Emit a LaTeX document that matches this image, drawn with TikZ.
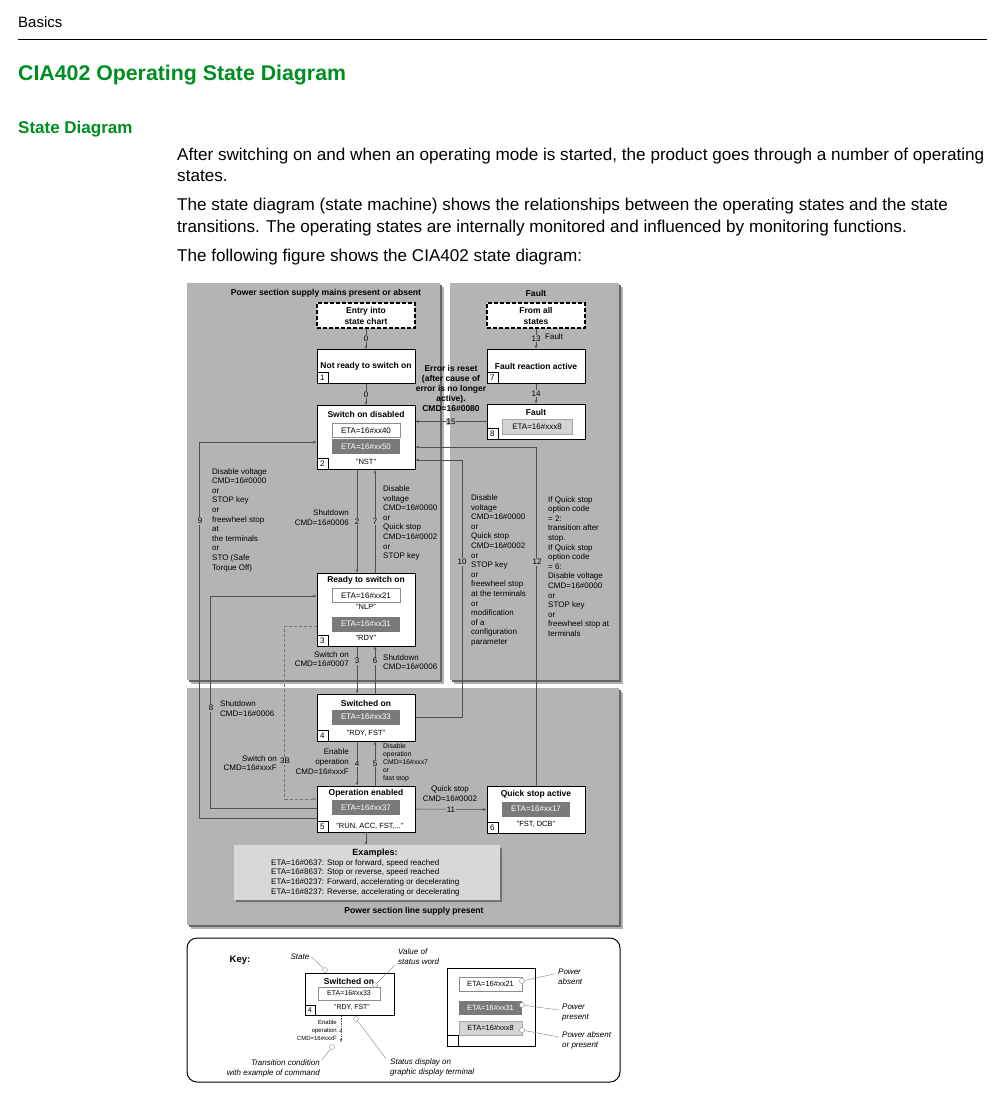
\documentclass[tikz,border=0pt]{standalone}
\usepackage{fontspec}
\setmainfont{Liberation Sans}
\usetikzlibrary{arrows.meta}

\definecolor{sgreen}{RGB}{0,142,32}
\definecolor{panelgray}{RGB}{180,180,180}
\definecolor{etadark}{RGB}{122,122,122}
\definecolor{etalight}{RGB}{212,212,212}
\definecolor{exgray}{RGB}{216,216,216}
\definecolor{linegray}{RGB}{80,80,80}

\begin{document}
\begin{tikzpicture}[
    x=1pt, y=-1pt,
    font=\fontsize{8}{9.6}\selectfont,
    >={Stealth[length=3.5pt, width=2.6pt]},
    state/.style={draw, fill=white, line width=1pt, minimum width=98pt, inner sep=0pt, align=center, font=\fontsize{8.5}{11}\selectfont\bfseries},
    entrybox/.style={state, dash pattern=on 4pt off 2pt, line width=1.3pt},
    title/.style={inner sep=0pt, font=\fontsize{8.5}{10}\selectfont\bfseries},
    ptitle/.style={inner sep=0pt, font=\fontsize{8.6}{10}\selectfont\bfseries},
    numbox/.style={draw, fill=white, line width=0.8pt, minimum size=11pt, inner sep=0pt, anchor=south west, font=\fontsize{8}{8}\selectfont},
    etaw/.style={draw=black!45, fill=white, minimum width=68pt, minimum height=14pt, inner sep=0pt},
    etad/.style={fill=etadark, text=white, minimum width=68pt, minimum height=15pt, inner sep=0pt},
    etal/.style={draw=black!35, fill=etalight, minimum width=70pt, minimum height=15pt, inner sep=0pt},
    stat/.style={inner sep=0pt, font=\fontsize{7.5}{9}\selectfont},
    conn/.style={draw=linegray, line width=0.55pt, ->},
    lbl/.style={fill=panelgray, inner sep=0.7pt},
    txt/.style={align=left, anchor=west, inner sep=0pt},
    rtxt/.style={align=right, anchor=east, inner sep=0pt},
    head/.style={anchor=base west, inner sep=0pt, font=\fontsize{17.1}{20}\selectfont},
    callout/.style={draw=black!45, line width=0.45pt},
    ring/.style={circle, draw=black!45, fill=white, inner sep=0pt, minimum size=5pt},
    keyit/.style={inner sep=0pt, font=\fontsize{8}{10}\selectfont\itshape}
]
\useasboundingbox (0,0) rectangle (1004,1106);

% Kopfzeile und Einleitung
\node[head, font=\fontsize{15}{18}\selectfont] (basics) at (18,27) {Basics};
\draw[line width=0.9pt] (18,39) -- (987,39);
\node[head, text=sgreen, font=\fontsize{21.3}{24}\selectfont\bfseries] (titel) at (18,80.5) {CIA402 Operating State Diagram};
\node[head, text=sgreen, font=\fontsize{17}{20}\selectfont\bfseries] (sub) at (18,133) {State Diagram};
\node[head] (p1a) at (177,160) {After switching on and when an operating mode is started, the product goes through a number of operating};
\node[head] (p1b) at (177,181) {states.};
\node[head] (p2a) at (177,210) {The state diagram (state machine) shows the relationships between the operating states and the state};
\node[head] (p2b) at (177,232) {transitions. The operating states are internally monitored and influenced by monitoring functions.};
\node[head] (p3a) at (177,261) {The following figure shows the CIA402 state diagram:};

% Hintergrundflaechen mit Schatten
\fill[black!30] (191,287) rectangle (444,684);
\fill[black!60] (189,285) rectangle (442,682);
\fill[panelgray] (187,283) rectangle (440,680);
\fill[black!30] (454,287) rectangle (623,684);
\fill[black!60] (452,285) rectangle (621,682);
\fill[panelgray] (450,283) rectangle (619,680);
\fill[black!30] (191,692) rectangle (623,929);
\fill[black!60] (189,690) rectangle (621,927);
\fill[panelgray] (187,688) rectangle (619,925);
\node[ptitle] (ptop) at (326,293) {Power section supply mains present or absent};
\node[ptitle] (pfault) at (536,293) {Fault};
\node[ptitle] (pbot) at (414,911) {Power section line supply present};

% Zustaende links
\node[entrybox, minimum height=25pt] (entry) at (366,315.5) {Entry into\\state chart};
\node[state, minimum height=34pt] (nrdy) at (366,366.5) {Not ready to switch on};
\node[numbox] (n1) at (nrdy.south west) {1};

\node[state, minimum height=64pt] (sod) at (366,437.5) {};
\node[title] (sodt) at (366,414) {Switch on disabled};
\node[etaw] (sode1) at (366,430.5) {ETA=16\#xx40};
\node[etad] (sode2) at (366,446.5) {ETA=16\#xx50};
\node[stat] (sods) at (366,462) {"NST"};
\node[numbox] (n2) at (sod.south west) {2};

\node[state, minimum height=73pt] (rdy) at (366,609.5) {};
\node[title] (rdyt) at (366,580) {Ready to switch on};
\node[etaw] (rdye1) at (366,595.5) {ETA=16\#xx21};
\node[stat] (rdys1) at (366,607) {"NLP"};
\node[etad] (rdye2) at (366,624) {ETA=16\#xx31};
\node[stat] (rdys2) at (366,638) {"RDY"};
\node[numbox] (n3) at (rdy.south west) {3};

\node[state, minimum height=47pt] (swon) at (366,717.5) {};
\node[title] (swont) at (366,703) {Switched on};
\node[etad] (swone) at (366,717) {ETA=16\#xx33};
\node[stat] (swons) at (366,733) {"RDY, FST"};
\node[numbox] (n4) at (swon.south west) {4};

\node[state, minimum height=46pt] (open) at (366,809) {};
\node[title] (opent) at (366,793) {Operation enabled};
\node[etad] (opene) at (366,807.5) {ETA=16\#xx37};
\node[stat] (opens) at (370,826) {"RUN, ACC, FST,..."};
\node[numbox] (n5) at (open.south west) {5};

% Zustaende rechts
\node[state, minimum height=47pt] (qsa) at (536,809.5) {};
\node[title] (qsat) at (536,794) {Quick stop active};
\node[etad] (qsae) at (536,809) {ETA=16\#xx17};
\node[stat] (qsas) at (536,824) {"FST, DCB"};
\node[numbox] (n6) at (qsa.south west) {6};

\node[entrybox, minimum height=25pt] (fromall) at (536,315.5) {From all\\states};
\node[state, minimum height=34pt] (fra) at (536,366) {Fault reaction active};
\node[numbox] (n7) at (fra.south west) {7};
\node[state, minimum height=35pt] (fault) at (536,421.5) {};
\node[title] (faultt) at (536,412) {Fault};
\node[etal] (faulte) at (537,426.5) {ETA=16\#xxx8};
\node[numbox] (n8) at (fault.south west) {8};

% Uebergaenge senkrecht
\draw[conn] (entry) -- node[lbl] (t0a) {0} (nrdy);
\draw[conn] (nrdy) -- node[lbl] (t0b) {0} (sod);
\draw[conn] (fromall) -- node[lbl] (t13) {13} (fra);
\node[anchor=west, inner sep=0pt] (t13f) at (545,337) {Fault};
\draw[conn] (fra) -- node[lbl] (t14) {14} (fault);
\draw[conn] ([xshift=-9pt]sod.south) -- node[lbl] (t2) {2} ([xshift=-9pt]rdy.north);
\draw[conn] ([xshift=9pt]rdy.north) -- node[lbl] (t7) {7} ([xshift=9pt]sod.south);
\draw[conn] ([xshift=-9pt]rdy.south) -- node[lbl, pos=0.31] (t3) {3} ([xshift=-9pt]swon.north);
\draw[conn] ([xshift=9pt]swon.north) -- node[lbl, pos=0.69] (t6) {6} ([xshift=9pt]rdy.south);
\draw[conn] ([xshift=-9pt]swon.south) -- node[lbl] (t4) {4} ([xshift=-9pt]open.north);
\draw[conn] ([xshift=9pt]open.north) -- node[lbl] (t5) {5} ([xshift=9pt]swon.south);

% Uebergaenge waagerecht und mit Knick
\draw[conn] (fault.west) -- node[lbl] (t15) {15} (sod.east |- fault.west);
\draw[conn] (open.east) -- node[lbl] (t11) {11} (qsa.west);
\draw[conn] ([yshift=-9pt]open.west) -- ++(-117,0) |- ([yshift=-4.5pt]sod.west);
\draw[conn] ([yshift=1pt]open.west) -- ++(-106,0) |- ([yshift=13.5pt]rdy.west);
\draw[conn, draw=black!55, dash pattern=on 3pt off 2pt] ([yshift=-16.5pt]rdy.west) -- ++(-32,0) |- ([yshift=10pt]open.west);
\draw[conn] (swon.east) -- ++(47,0) |- ([yshift=-22.5pt]sod.east);
\draw[conn] (qsa.north) |- ([yshift=-9.5pt]sod.east);
\node[lbl] (t9) at (200,521) {9};
\node[lbl] (t8) at (211,708) {8};
\node[lbl] (t3b) at (285,761) {3B};
\node[lbl] (t10) at (462,562) {10};
\node[lbl] (t12) at (537,562) {12};

% Bedingungen
\node[rtxt] (d2) at (349,517.5) {Shutdown\\CMD=16\#0006};
\node[txt] (d7) at (383,523) {Disable\\voltage\\CMD=16\#0000\\or\\Quick stop\\CMD=16\#0002\\or\\STOP key};
\node[rtxt] (d3) at (349,659) {Switch on\\CMD=16\#0007};
\node[txt] (d6) at (383,662) {Shutdown\\CMD=16\#0006};
\node[rtxt, font=\fontsize{8}{10}\selectfont] (d4) at (349,762) {Enable\\operation\\CMD=16\#xxxF};
\node[txt, font=\fontsize{6.8}{8}\selectfont] (d5) at (383,763) {Disable\\operation\\CMD=16\#xxx7\\or\\fast stop};
\node[txt] (d9) at (212,520) {Disable voltage\\CMD=16\#0000\\or\\STOP key\\or\\freewheel stop\\at\\the terminals\\or\\STO (Safe\\Torque Off)};
\node[txt] (d8) at (220,708.5) {Shutdown\\CMD=16\#0006};
\node[rtxt] (d3b) at (277,763) {Switch on\\CMD=16\#xxxF};
\node[txt] (d10) at (471,570.5) {Disable\\voltage\\CMD=16\#0000\\or\\Quick stop\\CMD=16\#0002\\or\\STOP key\\or\\freewheel stop\\at the terminals\\or\\modification\\of a\\configuration\\parameter};
\node[txt] (d12) at (548,566.5) {If Quick stop\\option code\\= 2:\\transition after\\stop.\\If Quick stop\\option code\\= 6:\\Disable voltage\\CMD=16\#0000\\or\\STOP key\\or\\freewheel stop at\\terminals};
\node[align=center, inner sep=0pt, font=\fontsize{8.5}{10}\selectfont\bfseries] (d15) at (451,388) {Error is reset\\(after cause of\\error is no longer\\active).\\CMD=16\#0080};
\node[align=center, inner sep=0pt] (d11) at (450,793.5) {Quick stop\\CMD=16\#0002};

% Beispiele
\fill[black!30] (238,850) rectangle (504,904);
\fill[black!55] (236,848) rectangle (502,902);
\node[fill=exgray, minimum width=266pt, minimum height=55pt, inner sep=0pt] (examples) at (367,872.5) {};
\node[title, font=\fontsize{9}{10}\selectfont\bfseries] (ext) at (375,853) {Examples:};
\node[txt, font=\fontsize{8}{9.7}\selectfont] (exl) at (271,877.5) {ETA=16\#0637: Stop or forward, speed reached\\ETA=16\#8637: Stop or reverse, speed reached\\ETA=16\#0237: Forward, accelerating or decelerating\\ETA=16\#8237: Reverse, accelerating or decelerating};
\draw[conn] (open.south) -- (open.south |- examples.north);

% Legende
\node[draw, line width=1pt, rounded corners=10pt, minimum width=433pt, minimum height=144pt] (keybox) at (403.5,1010) {};
\node[title, font=\fontsize{9.5}{10}\selectfont\bfseries] (keyt) at (240,960) {Key:};
\node[state, minimum width=89pt, minimum height=42pt] (kst) at (349.5,994) {};
\node[title] (kstt) at (349,981) {Switched on};
\node[etaw, minimum width=62pt, minimum height=13pt, font=\fontsize{7}{8}\selectfont] (kste) at (349,993.5) {ETA=16\#xx33};
\node[stat, font=\fontsize{7}{8}\selectfont] (ksts) at (352,1007.5) {"RDY, FST"};
\node[numbox, minimum size=10pt, font=\fontsize{7}{7}\selectfont] (kn4) at (kst.south west) {4};
\coordinate (ktend) at (341,1042);
\draw[conn, dash pattern=on 1.5pt off 1pt] ([xshift=-8.5pt]kst.south) -- node[lbl, fill=white, pos=0.6, font=\fontsize{6}{6}\selectfont] (kt4) {4} (ktend);
\node[rtxt, font=\fontsize{6}{8}\selectfont] (ktt) at (337,1030.5) {Enable\\operation\\CMD=16\#xxxF};

\node[keyit] (kstate) at (300,957) {State};
\node[ring] (kc1) at (325,970) {};
\draw[callout] ([xshift=2pt]kstate.east) -- (kc1);
\node[keyit, align=left, anchor=west] (kval) at (398,957) {Value of\\status word};
\node[ring] (kc2) at (375,985) {};
\draw[callout] ([xshift=-3pt]kval.south west) -- (kc2);
\node[keyit, align=right, anchor=east] (ktc) at (320,1068.5) {Transition condition\\with example of command};
\node[ring] (kc3) at (332,1047) {};
\draw[callout] ([xshift=2pt]ktc.north east) -- (kc3);
\node[keyit, align=left, anchor=west] (ksd) at (390,1067.5) {Status display on\\graphic display terminal};
\node[ring] (kc4) at (356,1019) {};
\draw[callout] ([xshift=-4pt]ksd.north west) -- (kc4);

\node[draw, line width=0.8pt, minimum width=88pt, minimum height=78pt, inner sep=0pt] (kpow) at (491,1007) {};
\node[numbox] (kn) at (kpow.south west) {};
\node[etaw, minimum width=63pt, font=\fontsize{7.5}{8}\selectfont] (kp1) at (490.5,984) {ETA=16\#xx21};
\node[etad, minimum width=63pt, minimum height=14pt, font=\fontsize{7.5}{8}\selectfont] (kp2) at (490.5,1007.5) {ETA=16\#xx31};
\node[etal, minimum width=63pt, minimum height=14pt, font=\fontsize{7.5}{8}\selectfont] (kp3) at (490.5,1028) {ETA=16\#xxx8};
\node[ring] (kc5) at (522,981) {};
\node[ring] (kc6) at (522,1005) {};
\node[ring] (kc7) at (522,1030) {};
\node[keyit, align=left, anchor=west] (kabs) at (558,977) {Power\\absent};
\node[keyit, align=left, anchor=west] (kpres) at (562,1013) {Power\\present};
\node[keyit, align=left, anchor=west] (kboth) at (562,1040) {Power absent\\or present};
\draw[callout] (kc5) -- ([xshift=-4pt,yshift=3pt]kabs.west);
\draw[callout] (kc6) -- ([xshift=-3pt,yshift=3pt]kpres.west);
\draw[callout] (kc7) -- ([xshift=-3pt,yshift=3pt]kboth.west);
\end{tikzpicture}
\end{document}
